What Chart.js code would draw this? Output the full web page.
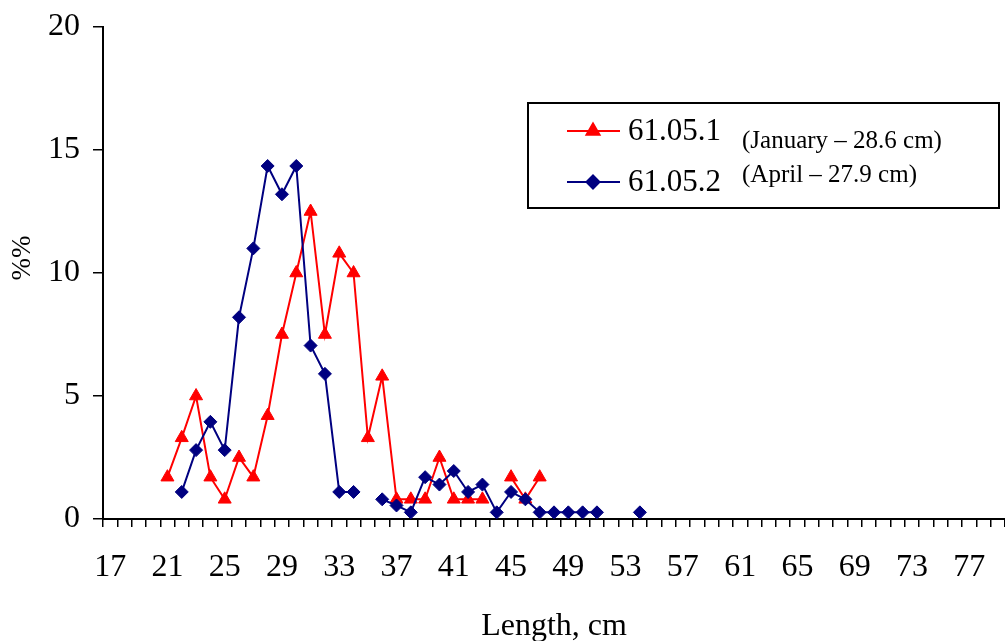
<!DOCTYPE html>
<html>
<head>
<meta charset="utf-8">
<script src="https://cdn.jsdelivr.net/npm/chart.js@4.4.0/dist/chart.umd.min.js"></script>
<style>
  html, body { margin: 0; padding: 0; background: #fff; }
</style>
</head>
<body>
<canvas id="myChart" width="1005" height="641"></canvas>
<script>
// length classes, cm (category axis)
const lengthLabels = ['17','18','19','20','21','22','23','24','25','26','27','28','29','30','31','32',
    '33','34','35','36','37','38','39','40','41','42','43','44','45','46','47','48',
    '49','50','51','52','53','54','55','56','57','58','59','60','61','62','63','64',
    '65','66','67','68','69','70','71','72','73','74','75','76','77','78','79'];

// 61.05.1 (January)
const janLengths = [21,22,23,24,25,26,27,28,29,30,31,32,33,34,35,36,37,38,39,40,41,42,43,44,45,46,47];
const janValues  = [1.7,3.3,5.0,1.7,0.8,2.5,1.7,4.2,7.5,10.0,12.5,7.5,10.8,10.0,3.3,5.8,0.8,0.8,0.8,2.5,0.8,0.8,0.8,null,1.7,0.8,1.7];

// 61.05.2 (April)
const aprLengths = [22,23,24,25,26,27,28,29,30,31,32,33,34,35,36,37,38,39,40,41,42,43,44,45,46,47,48,49,50,51,52,53,54];
const aprValues  = [1.1,2.8,3.95,2.8,8.2,11.0,14.35,13.2,14.35,7.05,5.9,1.1,1.1,null,0.8,0.55,0.27,1.7,1.4,1.95,1.1,1.4,0.27,1.1,0.8,0.27,0.27,0.27,0.27,0.27,null,null,0.27];

const yTicks = [0, 5, 10, 15, 20];

const serif = "'Liberation Serif', 'Times New Roman', serif";

function toPoints(lengths, values) {
    return lengths.map((l, i) => ({ x: String(l), y: values[i] }));
}

// no automatic label padding, the plot box is fixed by layout padding
function noPadding() {
    return { left: 0, top: 0, right: 0, bottom: 0 };
}

// legend and y title drawn by hand (two font sizes, off-centre title)
const boxLegend = {
    id: 'boxLegend',
    afterDraw(chart) {
        const c = chart.ctx;
        c.save();

        // y axis title
        c.save();
        c.translate(23, 258);
        c.rotate(-Math.PI / 2);
        c.fillStyle = '#000';
        c.font = '27px ' + serif;
        c.textAlign = 'center';
        c.textBaseline = 'middle';
        c.fillText('%%', 0, 0);
        c.restore();

        c.strokeStyle = '#000';
        c.lineWidth = 2;
        c.strokeRect(528, 103, 471, 105);

        const rows = [
            { y: 131, color: '#ff0000', style: 'triangle', r: 7.5, name: '61.05.1', note: '(January \u2013 28.6 cm)', noteY: 148 },
            { y: 182, color: '#000080', style: 'rectRot', r: 6.5, name: '61.05.2', note: '(April \u2013 27.9 cm)', noteY: 182 }
        ];
        rows.forEach(row => {
            c.strokeStyle = row.color;
            c.lineWidth = 2;
            c.beginPath();
            c.moveTo(567, row.y);
            c.lineTo(620, row.y);
            c.stroke();
            c.fillStyle = row.color;
            Chart.helpers.drawPoint(c, { pointStyle: row.style, radius: row.r, borderWidth: 1 }, 593, row.y);
            c.fill();

            c.fillStyle = '#000';
            c.textBaseline = 'alphabetic';
            c.font = '31px ' + serif;
            c.fillText(row.name, 628, row.y + 9);
            c.font = '25px ' + serif;
            c.fillText(row.note, 742, row.noteY);
        });
        c.restore();
    }
};

const config = {
    type: 'line',
    data: {
        labels: lengthLabels,
        datasets: [
            {
                label: '61.05.1',
                data: toPoints(janLengths, janValues),
                borderColor: '#ff0000',
                backgroundColor: '#ff0000',
                borderWidth: 2,
                pointStyle: 'triangle',
                pointRadius: 7.5,
                pointBorderWidth: 1,
                spanGaps: false,
                order: 1
            },
            {
                label: '61.05.2',
                data: toPoints(aprLengths, aprValues),
                borderColor: '#000080',
                backgroundColor: '#000080',
                borderWidth: 2,
                pointStyle: 'rectRot',
                pointRadius: 6.5,
                pointBorderWidth: 1,
                spanGaps: false,
                order: 0
            }
        ]
    },
    options: {
        responsive: false,
        animation: false,
        devicePixelRatio: 1,
        layout: { autoPadding: false, padding: { top: 27, right: 0, left: 0, bottom: 0 } },
        plugins: {
            legend: { display: false },
            tooltip: { enabled: false }
        },
        scales: {
            x: {
                type: 'category',
                offset: true,
                grid: { display: true, drawOnChartArea: false, offset: true, tickLength: 8, color: '#000', lineWidth: 1.5 },
                border: { display: true, color: '#000', width: 2 },
                ticks: {
                    autoSkip: false,
                    maxRotation: 0,
                    padding: 21,
                    color: '#000',
                    font: { family: serif, size: 32 },
                    callback(value, index) {
                        return index % 4 === 0 ? this.getLabelForValue(value) : '';
                    }
                },
                title: {
                    display: true,
                    text: 'Length, cm',
                    color: '#000',
                    font: { family: serif, size: 32 },
                    padding: { top: 0, bottom: -5 }
                },
                afterFit(scale) {
                    scale.height = 122;
                    scale.getPadding = noPadding;
                }
            },
            y: {
                min: 0,
                max: 20,
                grid: { display: true, drawOnChartArea: false, tickLength: 10, color: '#000', lineWidth: 1.5 },
                border: { display: true, color: '#000', width: 2 },
                afterBuildTicks(scale) { scale.ticks = yTicks.map(v => ({ value: v })); },
                ticks: {
                    padding: 13,
                    color: '#000',
                    font: { family: serif, size: 32 }
                },
                title: { display: false },
                afterFit(scale) {
                    scale.width = 103;
                    scale.getPadding = noPadding;
                }
            }
        }
    },
    plugins: [boxLegend]
};

const myChart = new Chart(document.getElementById('myChart'), config);
</script>
</body>
</html>
